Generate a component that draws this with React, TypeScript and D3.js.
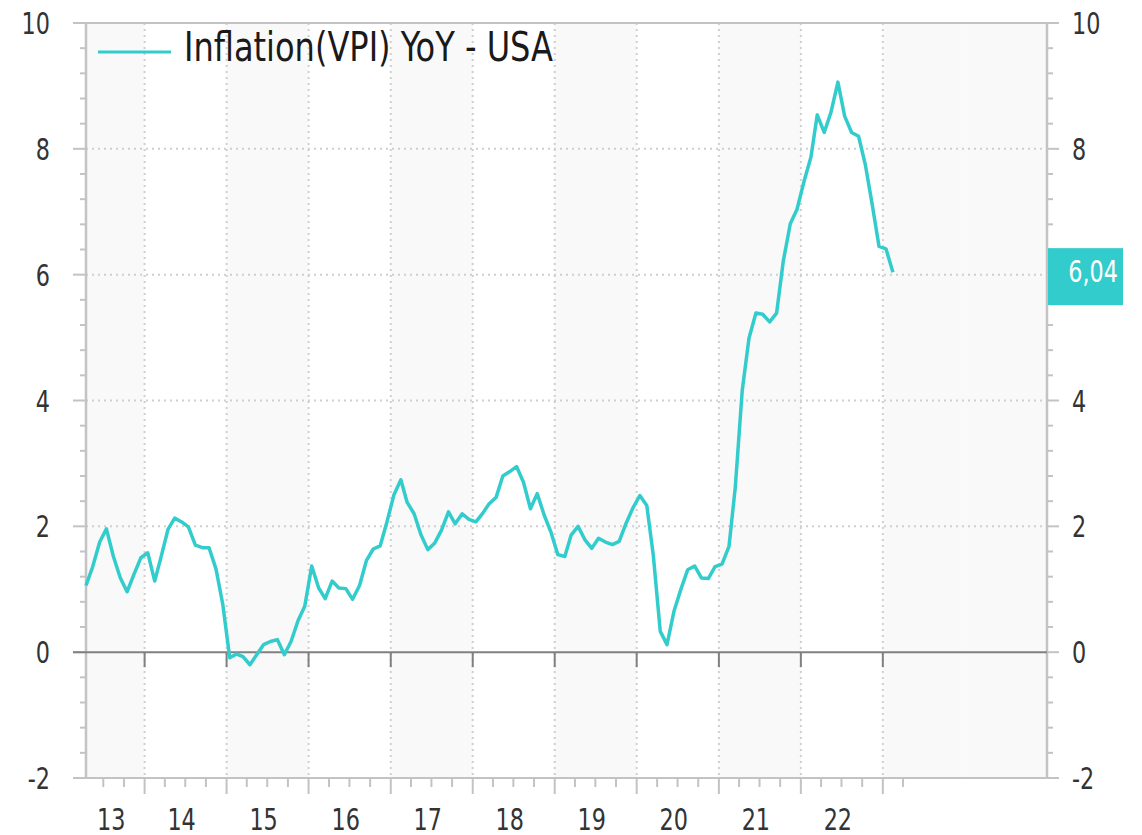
import React from 'react'
import * as d3 from 'd3'

// US CPI YoY in %, monthly, Apr 2013 .. Feb 2023
const firstMonth = new Date(2013, 3, 15)
const yoy2013 = [1.06, 1.36, 1.75, 1.96, 1.52, 1.18, 0.96, 1.24, 1.50]
const yoy2014 = [1.58, 1.13, 1.51, 1.95, 2.13, 2.07, 1.99, 1.70, 1.66, 1.66, 1.32, 0.76]
const yoy2015 = [-0.09, -0.03, -0.07, -0.20, -0.04, 0.12, 0.17, 0.20, -0.04, 0.17, 0.50, 0.73]
const yoy2016 = [1.37, 1.02, 0.85, 1.13, 1.02, 1.01, 0.84, 1.06, 1.46, 1.64, 1.69, 2.07]
const yoy2017 = [2.50, 2.74, 2.38, 2.20, 1.87, 1.63, 1.73, 1.94, 2.23, 2.04, 2.20, 2.11]
const yoy2018 = [2.07, 2.21, 2.36, 2.46, 2.80, 2.87, 2.95, 2.70, 2.28, 2.52, 2.18, 1.91]
const yoy2019 = [1.55, 1.52, 1.86, 2.00, 1.79, 1.65, 1.81, 1.75, 1.71, 1.76, 2.05, 2.29]
const yoy2020 = [2.49, 2.33, 1.54, 0.33, 0.12, 0.65, 0.99, 1.31, 1.37, 1.18, 1.17, 1.36]
const yoy2021 = [1.40, 1.68, 2.62, 4.16, 4.99, 5.39, 5.37, 5.25, 5.39, 6.22, 6.81, 7.04]
const yoy2022 = [7.48, 7.87, 8.54, 8.26, 8.58, 9.06, 8.52, 8.26, 8.20, 7.75, 7.11, 6.45]
const yoy2023 = [6.41, 6.04]

const yTicks = [-2, 0, 2, 4, 6, 8, 10]
const yearLabels = ['13', '14', '15', '16', '17', '18', '19', '20', '21', '22']
const seriesName = 'Inflation(VPI) YoY - USA'

const W = 1142
const H = 835
const left = 86
const right = 1047
const top = 23
const bottom = 778
const teal = '#33cccc'
const font = "'DejaVu Sans Condensed', 'DejaVu Sans', sans-serif"

// narrow text: the reference font is condensed, so squeeze it horizontally
function Txt(props: { x: number, y: number, anchor?: string, fill?: string, size?: number, children: any }) {
    const { x, y, anchor = 'start', fill = '#333', size = 31, children } = props
    return (
        <text transform={'translate(' + x + ',' + y + ') scale(0.8,1)'} textAnchor={anchor} fontSize={size} fill={fill}>
            {children}
        </text>
    )
}

export default function App() {
    const values = [...yoy2013, ...yoy2014, ...yoy2015, ...yoy2016, ...yoy2017,
        ...yoy2018, ...yoy2019, ...yoy2020, ...yoy2021, ...yoy2022, ...yoy2023]
    const data = values.map((v, i) => ({
        date: d3.timeMonth.offset(firstMonth, i),
        value: v,
    }))

    const x = d3.scaleTime()
        .domain([firstMonth, new Date(2025, 0, 1)])
        .range([left, right])
    const y = d3.scaleLinear().domain([-2, 10]).range([bottom, top])

    const line = d3.line<{ date: Date, value: number }>()
        .x(d => x(d.date))
        .y(d => y(d.value))

    // year bands, alternate shading
    const years = d3.range(2013, 2025)
    const bands = years.map((yr, i) => {
        const x0 = x(d3.max([new Date(yr, 0, 1), firstMonth]) as Date)
        const x1 = x(new Date(yr + 1, 0, 1))
        return { yr, x0, x1, shade: i % 2 === 0 || yr >= 2023 }
    })
    const yearStarts = d3.range(2014, 2024).map(yr => x(new Date(yr, 0, 1)))
    const quarterTicks = d3.timeMonth.range(new Date(2013, 6, 1), new Date(2023, 3, 2), 3)
        .filter(d => d.getMonth() !== 0)
        .map(d => x(d))

    const minorY = d3.range(-2, 10.001, 0.4).filter(v => Math.abs(v / 2 - Math.round(v / 2)) > 0.01)

    const last = data[data.length - 1]
    const lastY = y(last.value)
    const gray = '#c3c3c3'
    const dark = '#808080'

    return (
        <svg width={W} height={H} style={{ position: 'absolute', left: 0, top: 0 }} fontFamily={font}>
            <rect width={W} height={H} fill='#fff' />
            {bands.filter(b => b.shade).map(b =>
                <rect key={b.yr} x={b.x0} y={top} width={Math.min(b.x1, right) - b.x0} height={bottom - top} fill='#f9f9f9' />
            )}
            {/* grid */}
            {yearStarts.map((gx, i) =>
                <line key={'vg' + i} x1={gx} x2={gx} y1={top} y2={bottom} stroke='#cfcfcf' strokeWidth={2} strokeDasharray='2,4' />
            )}
            {yTicks.filter(v => v !== 0 && v !== -2 && v !== 10).map(v =>
                <line key={'hg' + v} x1={left} x2={right} y1={y(v)} y2={y(v)} stroke='#cfcfcf' strokeWidth={2} strokeDasharray='2,4' />
            )}
            {/* frame */}
            <line x1={73} x2={1059} y1={top} y2={top} stroke={gray} strokeWidth={2} />
            <line x1={73} x2={1059} y1={bottom} y2={bottom} stroke={gray} strokeWidth={2} />
            <line x1={left} x2={left} y1={top} y2={bottom} stroke={gray} strokeWidth={2.5} />
            <line x1={right} x2={right} y1={top} y2={bottom} stroke={gray} strokeWidth={2.5} />
            {/* y ticks */}
            {yTicks.map(v =>
                <g key={'yt' + v}>
                    <line x1={73} x2={left} y1={y(v)} y2={y(v)} stroke={gray} strokeWidth={2} />
                    <line x1={right} x2={1059} y1={y(v)} y2={y(v)} stroke={gray} strokeWidth={2} />
                    <Txt x={50} y={y(v) + 11} anchor='end'>{v}</Txt>
                    <Txt x={1072} y={y(v) + 11}>{v}</Txt>
                </g>
            )}
            {minorY.map((v, i) =>
                <g key={'ym' + i}>
                    <line x1={80} x2={left} y1={y(v)} y2={y(v)} stroke={gray} strokeWidth={2} />
                    <line x1={right} x2={1053} y1={y(v)} y2={y(v)} stroke={gray} strokeWidth={2} />
                </g>
            )}
            {/* x ticks */}
            {yearStarts.map((gx, i) =>
                <line key={'xt' + i} x1={gx} x2={gx} y1={bottom} y2={794} stroke={gray} strokeWidth={2} />
            )}
            {quarterTicks.map((gx, i) =>
                <line key={'xq' + i} x1={gx} x2={gx} y1={bottom} y2={787} stroke={gray} strokeWidth={2} />
            )}
            {yearLabels.map((lab, i) => {
                const b = bands[i]
                return <Txt key={'xl' + lab} x={(b.x0 + b.x1) / 2 - 4} y={830} anchor='middle'>{lab}</Txt>
            })}
            {/* zero line */}
            <line x1={73} x2={right} y1={y(0)} y2={y(0)} stroke={dark} strokeWidth={2} />
            {yearStarts.map((gx, i) =>
                <line key={'zt' + i} x1={gx} x2={gx} y1={y(0)} y2={y(0) + 15} stroke={dark} strokeWidth={2} />
            )}
            {/* series */}
            <path d={line(data) || ''} fill='none' stroke={teal} strokeWidth={3.5} strokeLinejoin='round' />
            {/* last value */}
            <rect x={right + 1} y={lastY - 24} width={75} height={57} fill={teal} />
            <Txt x={1118} y={lastY + 10} anchor='end' fill='#fff'>{d3.format('.2f')(last.value).replace('.', ',')}</Txt>
            {/* legend */}
            <line x1={98} x2={171} y1={52} y2={52} stroke={teal} strokeWidth={3} />
            <text x={184} y={61} fontSize={40} fill='#1a1a1a' textLength={369} lengthAdjust='spacingAndGlyphs'>{seriesName}</text>
        </svg>
    )
}
